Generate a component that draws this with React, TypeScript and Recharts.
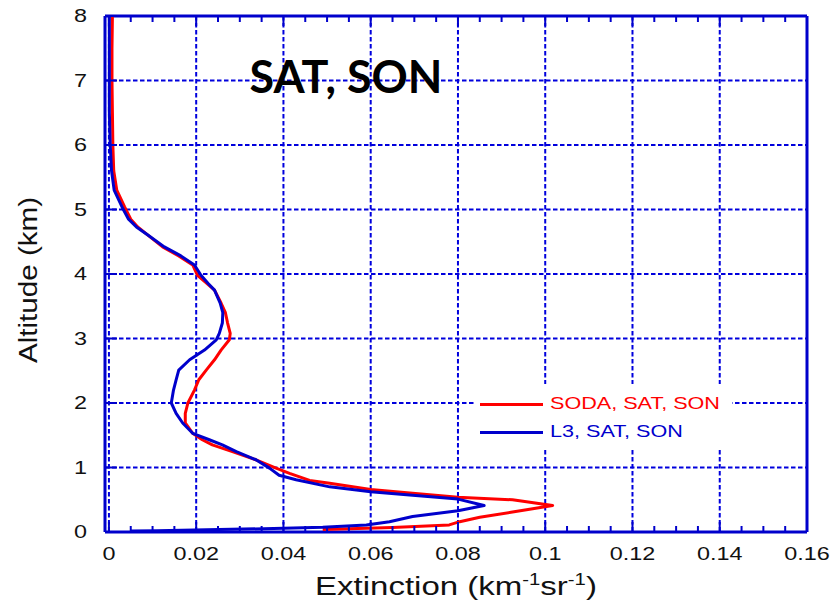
import React from 'react';
import { ScatterChart, Scatter, XAxis, YAxis, CartesianGrid, Legend } from 'recharts';

// SODA profile, altitude (km) top to bottom and extinction (km-1 sr-1)
const sodaAlt = [8.0, 7.5, 7.0, 6.5, 6.0, 5.6, 5.3, 5.04, 4.85, 4.73, 4.6, 4.42, 4.28, 4.14, 3.98, 3.85, 3.75, 3.55, 3.4, 3.24, 3.08, 2.98, 2.82, 2.67, 2.51, 2.36, 2.2, 2.0, 1.84, 1.69, 1.53, 1.43, 1.35, 1.245, 1.12, 0.99, 0.91, 0.8, 0.755, 0.66, 0.6, 0.54, 0.5, 0.41, 0.31, 0.23, 0.16, 0.11, 0.07, 0.04];
const sodaExt = [0.0008, 0.0007, 0.0007, 0.0008, 0.0009, 0.0011, 0.0018, 0.0036, 0.005, 0.0066, 0.009, 0.0123, 0.016, 0.0192, 0.0203, 0.0225, 0.0242, 0.0257, 0.0267, 0.0272, 0.0278, 0.0276, 0.0257, 0.0242, 0.0223, 0.0206, 0.0196, 0.0181, 0.0175, 0.0175, 0.0192, 0.0214, 0.0237, 0.0283, 0.0337, 0.0383, 0.0414, 0.046, 0.0506, 0.06, 0.0696, 0.08, 0.0925, 0.1017, 0.0925, 0.085, 0.0804, 0.078, 0.065, 0.049];

// L3 profile
const l3Alt = [8.0, 7.0, 6.5, 6.0, 5.6, 5.3, 5.04, 4.85, 4.73, 4.6, 4.42, 4.28, 4.14, 3.98, 3.85, 3.75, 3.55, 3.4, 3.24, 3.08, 2.98, 2.82, 2.67, 2.51, 2.36, 2.2, 2.0, 1.84, 1.69, 1.53, 1.43, 1.35, 1.245, 1.12, 0.99, 0.88, 0.81, 0.7, 0.625, 0.57, 0.51, 0.41, 0.33, 0.24, 0.16, 0.11, 0.073, 0.057, 0.02, 0.015];
const l3Ext = [0.0001, 0.0001, 0.0001, 0.0003, 0.0006, 0.0012, 0.003, 0.0045, 0.0063, 0.009, 0.0127, 0.0165, 0.0196, 0.0211, 0.0228, 0.0242, 0.0255, 0.0261, 0.026, 0.0253, 0.0246, 0.0219, 0.0185, 0.016, 0.0154, 0.0148, 0.0143, 0.0154, 0.0169, 0.0192, 0.023, 0.026, 0.0292, 0.0337, 0.0368, 0.039, 0.0429, 0.0506, 0.06, 0.0696, 0.08, 0.086, 0.08, 0.0696, 0.0643, 0.059, 0.049, 0.04, 0.011, 0.005];

const seriesNames = ['SODA, SAT, SON', 'L3, SAT, SON'];
const xMajorTicks = [0, 0.02, 0.04, 0.06, 0.08, 0.1, 0.12, 0.14, 0.16];
const xMinorTicks = Array.from({ length: 33 }, (_, i) => Number((i * 0.005).toFixed(3)));
const yTicks = [0, 1, 2, 3, 4, 5, 6, 7, 8];

const sodaRows = sodaAlt.map((alt, i) => ({ alt, ext: sodaExt[i] }));
const l3Rows = l3Alt.map((alt, i) => ({ alt, ext: l3Ext[i] }));

const RED = '#ff0000';
const BLUE = '#0000cc';
const FRAME = '#0000cc';
const GRID = '#0000dd';
const FONT = '"Liberation Sans", Arial, sans-serif';
const X_DOMAIN: [number, number] = [-0.0009, 0.16];

const isMajor = (v: number) => Math.abs(v / 0.02 - Math.round(v / 0.02)) < 1e-6;
const fmtX = (v: number) => (v === 0 ? '0' : String(Number(v.toFixed(2))));
const noDot = () => <g />;

const BottomTick = (props: any) => {
  const { x, y, payload } = props;
  const major = isMajor(payload.value);
  return (
    <g>
      <line x1={x} x2={x} y1={y} y2={y - (major ? 10 : 6)} stroke={FRAME} strokeWidth={2} />
      {major && (
        <g transform={`translate(${x},${y + 28}) scale(1.3,1)`}>
          <text x={0} y={0} textAnchor="middle" fontSize={18} fontFamily={FONT} fill="#111">
            {fmtX(payload.value)}
          </text>
        </g>
      )}
    </g>
  );
};

const TopTick = (props: any) => {
  const { x, y, payload } = props;
  const major = isMajor(payload.value);
  return <line x1={x} x2={x} y1={y} y2={y + (major ? 10 : 6)} stroke={FRAME} strokeWidth={2} />;
};

const LeftTick = (props: any) => {
  const { x, y, payload } = props;
  return (
    <g>
      <line x1={x} x2={x + 12} y1={y} y2={y} stroke={FRAME} strokeWidth={2} />
      <g transform={`translate(${x - 18},${y}) scale(1.3,1)`}>
        <text x={0} y={0} dy="0.36em" textAnchor="end" fontSize={18} fontFamily={FONT} fill="#111">
          {payload.value}
        </text>
      </g>
    </g>
  );
};

const XTitle = (props: any) => {
  const vb = props.viewBox || { x: 105, y: 532, width: 702 };
  const cx = vb.x + vb.width / 2;
  return (
    <g transform={`translate(${cx},${vb.y + 63}) scale(1.27,1)`}>
      <text x={0} y={0} textAnchor="middle" fontSize={26} fontFamily={FONT} fill="#111">
        Extinction (km
        <tspan dy={-10} fontSize={16}>-1</tspan>
        <tspan dy={10}>sr</tspan>
        <tspan dy={-10} fontSize={16}>-1</tspan>
        <tspan dy={10}>)</tspan>
      </text>
    </g>
  );
};

const YTitle = (props: any) => {
  const vb = props.viewBox || { x: 45, y: 16, height: 516 };
  const cy = vb.y + vb.height / 2 + 6;
  return (
    <g transform={`translate(${vb.x - 17},${cy}) rotate(-90) scale(1.14,1)`}>
      <text x={0} y={0} dy="0.36em" textAnchor="middle" fontSize={26} fontFamily={FONT} fill="#111">
        Altitude (km)
      </text>
    </g>
  );
};

const LegendBox = (props: any) => {
  const items = [...(props.payload || [])]
    .filter((a: any) => seriesNames.includes(a.value))
    .sort((a: any, b: any) => seriesNames.indexOf(a.value) - seriesNames.indexOf(b.value));
  return (
    <div style={{ background: '#fff', width: 258, height: 64, paddingTop: 6, boxSizing: 'border-box' }}>
      {items.map((entry: any) => (
        <div key={entry.value} style={{ display: 'flex', alignItems: 'center', height: 28 }}>
          <span style={{ display: 'inline-block', width: 63, height: 3, marginLeft: 6, background: entry.color }} />
          <span
            style={{
              marginLeft: 7,
              color: entry.color,
              fontFamily: FONT,
              fontSize: 17,
              whiteSpace: 'nowrap',
              display: 'inline-block',
              transform: 'scaleX(1.27)',
              transformOrigin: 'left center',
            }}
          >
            {entry.value}
          </span>
        </div>
      ))}
    </div>
  );
};

export default function App() {
  return (
    <div style={{ position: 'absolute', left: 0, top: 0, width: 830, height: 606, background: '#fff' }}>
      <ScatterChart width={830} height={606} margin={{ top: 15, right: 22, bottom: 34, left: 45 }}>
        <CartesianGrid
          stroke={GRID}
          strokeWidth={2}
          strokeDasharray="4.5 2.5"
          verticalValues={xMajorTicks}
          horizontalValues={yTicks}
        />
        <XAxis
          dataKey="ext"
          type="number"
          domain={X_DOMAIN}
          allowDataOverflow
          ticks={xMinorTicks}
          interval={0}
          tick={<BottomTick />}
          tickLine={false}
          tickSize={0}
          tickMargin={0}
          height={40}
          axisLine={{ stroke: FRAME, strokeWidth: 3 }}
          label={{ content: <XTitle /> }}
        />
        {/* mirrored frame axes: top carries inward ticks, right is a plain border */}
        <XAxis
          xAxisId="top"
          orientation="top"
          dataKey="ext"
          type="number"
          domain={X_DOMAIN}
          allowDataOverflow
          ticks={xMinorTicks}
          interval={0}
          tick={<TopTick />}
          tickLine={false}
          tickSize={0}
          tickMargin={0}
          height={1}
          axisLine={{ stroke: FRAME, strokeWidth: 3 }}
        />
        <YAxis
          dataKey="alt"
          type="number"
          domain={[0, 8]}
          allowDataOverflow
          ticks={yTicks}
          interval={0}
          tick={<LeftTick />}
          tickLine={false}
          tickSize={0}
          tickMargin={0}
          width={60}
          axisLine={{ stroke: FRAME, strokeWidth: 3 }}
          label={{ content: <YTitle /> }}
        />
        <YAxis
          yAxisId="right"
          orientation="right"
          dataKey="alt"
          type="number"
          domain={[0, 8]}
          allowDataOverflow
          ticks={yTicks}
          tick={false}
          tickLine={false}
          width={1}
          axisLine={{ stroke: FRAME, strokeWidth: 3 }}
        />
        <Legend
          layout="vertical"
          align="center"
          verticalAlign="middle"
          content={<LegendBox />}
          wrapperStyle={{ left: 474, top: 384, width: 258, height: 64 }}
        />
        {/* invisible series so the frame axes share the same scales */}
        <Scatter
          xAxisId="top"
          yAxisId="right"
          name="frame"
          data={sodaRows}
          fill="none"
          legendType="none"
          shape={noDot}
          isAnimationActive={false}
        />
        <Scatter
          name={seriesNames[0]}
          data={sodaRows}
          fill={RED}
          legendType="line"
          line={{ stroke: RED, strokeWidth: 3, strokeLinejoin: 'round' }}
          lineType="joint"
          shape={noDot}
          isAnimationActive={false}
        />
        <Scatter
          name={seriesNames[1]}
          data={l3Rows}
          fill={BLUE}
          legendType="line"
          line={{ stroke: BLUE, strokeWidth: 3, strokeLinejoin: 'round' }}
          lineType="joint"
          shape={noDot}
          isAnimationActive={false}
        />
      </ScatterChart>
      <svg width={830} height={606} style={{ position: 'absolute', left: 0, top: 0, pointerEvents: 'none' }}>
        <text
          x={346}
          y={93}
          textAnchor="middle"
          fontSize={46}
          fontWeight={700}
          fontFamily="Lato, 'Open Sans', sans-serif"
          fill="#000"
          textLength={193}
          lengthAdjust="spacingAndGlyphs"
        >
          SAT, SON
        </text>
      </svg>
    </div>
  );
}
